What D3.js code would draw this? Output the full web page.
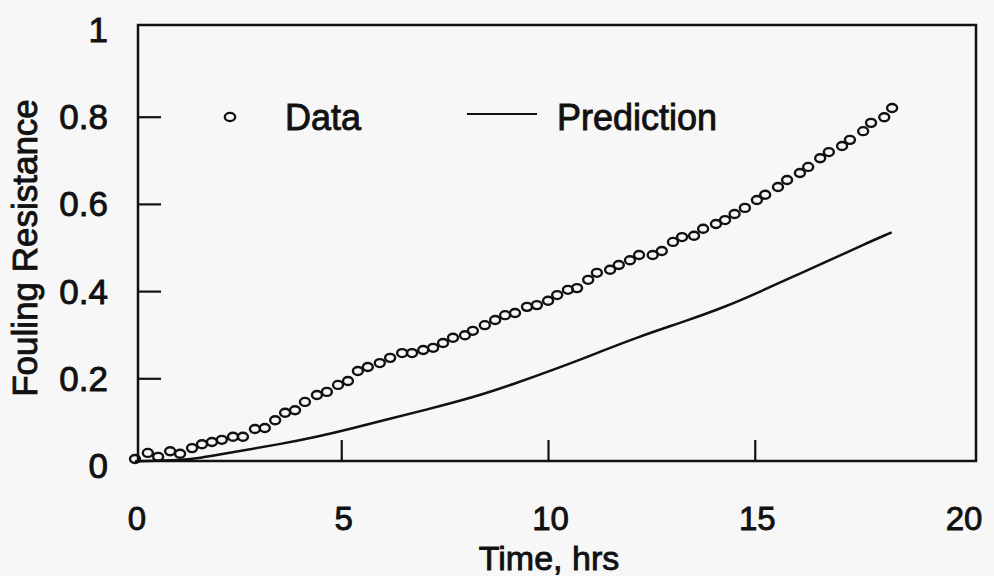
<!DOCTYPE html>
<html><head><meta charset="utf-8">
<script src="https://cdnjs.cloudflare.com/ajax/libs/d3/7.8.5/d3.min.js"></script>
<style>body{margin:0;background:#f7f7f7}svg{display:block}text{font-family:"Liberation Sans",Arial,sans-serif;fill:#111;stroke:#111;stroke-width:0.9px}</style>
</head><body><svg id="c" width="994" height="576"></svg>
<script>
const dataTime = [0, 0.31, 0.56, 0.85, 1.09, 1.38, 1.62, 1.86, 2.10, 2.37, 2.61, 2.90, 3.14, 3.39, 3.63, 3.87, 4.11, 4.40, 4.64, 4.91, 5.15, 5.39, 5.63, 5.92, 6.17, 6.46, 6.70, 6.97, 7.21, 7.45, 7.69, 7.98, 8.17, 8.46, 8.71, 8.95, 9.19, 9.48, 9.72, 9.99, 10.21, 10.47, 10.69, 10.96, 11.17, 11.49, 11.70, 11.97, 12.19, 12.52, 12.74, 13.01, 13.23, 13.52, 13.74, 14.05, 14.27, 14.50, 14.75, 15.04, 15.24, 15.55, 15.77, 16.08, 16.28, 16.57, 16.78, 17.10, 17.29, 17.61, 17.80, 18.12, 18.31];
const dataValue = [0.016, 0.030, 0.021, 0.034, 0.028, 0.041, 0.050, 0.055, 0.060, 0.067, 0.067, 0.085, 0.087, 0.105, 0.122, 0.128, 0.147, 0.163, 0.170, 0.186, 0.195, 0.218, 0.227, 0.236, 0.248, 0.259, 0.259, 0.266, 0.271, 0.282, 0.294, 0.300, 0.310, 0.323, 0.335, 0.346, 0.351, 0.365, 0.369, 0.379, 0.392, 0.404, 0.408, 0.427, 0.443, 0.450, 0.461, 0.472, 0.484, 0.484, 0.493, 0.514, 0.525, 0.528, 0.544, 0.555, 0.564, 0.578, 0.592, 0.610, 0.622, 0.640, 0.656, 0.672, 0.686, 0.706, 0.720, 0.734, 0.748, 0.768, 0.787, 0.800, 0.821];
const predTime = [0, 0.5, 1.0, 1.5, 2.5, 3.5, 4.4, 5.2, 6.05, 7.0, 8.2, 9.1, 10.3, 11.2, 12.1, 13.4, 14.3, 15.1, 16.0, 16.9, 17.6, 18.3];
const predValue = [0.011, 0.012, 0.013, 0.017, 0.034, 0.050, 0.067, 0.085, 0.106, 0.128, 0.158, 0.186, 0.227, 0.260, 0.294, 0.335, 0.366, 0.399, 0.438, 0.476, 0.507, 0.536];
const xTickLabels = [0, 5, 10, 15, 20];
const xTickMarks = [5, 10, 15];
const yTickLabels = [0, 0.2, 0.4, 0.6, 0.8, 1];
const yTickMarks = [0.2, 0.4, 0.6, 0.8];

const svg = d3.select("#c");
const x = d3.scaleLinear().domain([0, 20]).range([135, 962]);
const y = d3.scaleLinear().domain([0, 1]).range([466, 30]);
const frame = {l: 138, r: 976, t: 25, b: 461};

svg.append("rect").attr("x", frame.l).attr("y", frame.t)
  .attr("width", frame.r - frame.l).attr("height", frame.b - frame.t)
  .attr("fill", "none").attr("stroke", "#111").attr("stroke-width", 2.5);

svg.selectAll(".xt").data(xTickMarks).enter().append("line")
  .attr("x1", d => x(d)).attr("x2", d => x(d))
  .attr("y1", frame.b).attr("y2", frame.b - 21)
  .attr("stroke", "#111").attr("stroke-width", 2.2);
svg.selectAll(".yt").data(yTickMarks).enter().append("line")
  .attr("x1", frame.l).attr("x2", frame.l + 23)
  .attr("y1", d => y(d)).attr("y2", d => y(d))
  .attr("stroke", "#111").attr("stroke-width", 2.2);

svg.selectAll(".xl").data(xTickLabels).enter().append("text")
  .attr("x", d => x(d) + 2).attr("y", 530)
  .attr("text-anchor", "middle").attr("font-size", 33)
  .text(d => d);
svg.selectAll(".yl").data(yTickLabels).enter().append("text")
  .attr("x", 108).attr("y", d => y(d) + 12)
  .attr("text-anchor", "end").attr("font-size", 35)
  .text(d => d);

svg.append("text").attr("x", 549).attr("y", 570)
  .attr("text-anchor", "middle").attr("font-size", 34).text("Time, hrs");
svg.append("text").attr("transform", "translate(37,248) rotate(-90)")
  .attr("text-anchor", "middle").attr("font-size", 35).text("Fouling Resistance");

const line = d3.line().x(d => x(d[0])).y(d => y(d[1])).curve(d3.curveBasis);
svg.append("path").datum(predTime.map((t, i) => [t, predValue[i]]))
  .attr("d", line).attr("fill", "none").attr("stroke", "#111").attr("stroke-width", 2.5);

svg.selectAll(".pt").data(dataTime.map((t, i) => [t, dataValue[i]])).enter().append("ellipse")
  .attr("cx", d => x(d[0])).attr("cy", d => y(d[1]))
  .attr("rx", 5).attr("ry", 4)
  .attr("fill", "none").attr("stroke", "#111").attr("stroke-width", 2.4);

svg.append("ellipse").attr("cx", 230).attr("cy", 117).attr("rx", 5.2).attr("ry", 4.2)
  .attr("fill", "none").attr("stroke", "#111").attr("stroke-width", 2.3);
svg.append("text").attr("x", 285).attr("y", 130).attr("font-size", 36).text("Data");
svg.append("line").attr("x1", 467).attr("x2", 537).attr("y1", 114).attr("y2", 114)
  .attr("stroke", "#111").attr("stroke-width", 2.2);
svg.append("text").attr("x", 557).attr("y", 130).attr("font-size", 36).text("Prediction");
</script></body></html>
